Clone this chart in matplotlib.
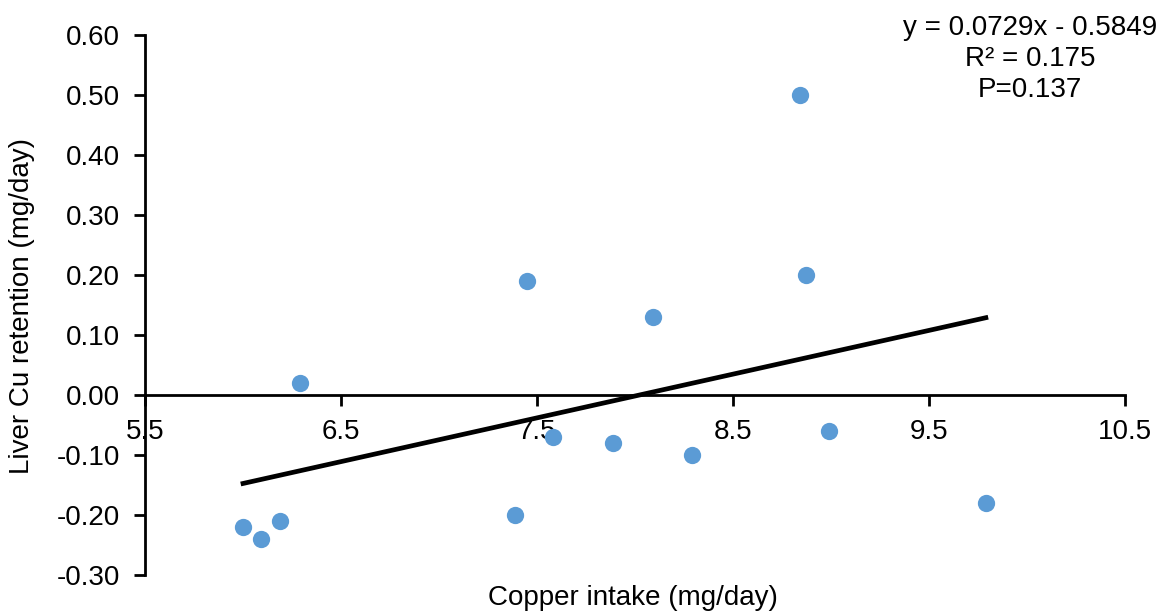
import matplotlib
matplotlib.use("Agg")
import matplotlib.pyplot as plt
import numpy as np

plt.rcParams['font.family'] = ['Liberation Sans', 'DejaVu Sans']

copper_intake = [6.0, 6.09, 6.19, 6.29, 7.45, 7.39, 7.58, 7.89, 8.09, 8.29, 8.84, 8.87, 8.99, 9.79]
liver_retention = [-0.22, -0.24, -0.21, 0.02, 0.19, -0.20, -0.07, -0.08, 0.13, -0.10, 0.50, 0.20, -0.06, -0.18]
slope, intercept = 0.0729, -0.5849
x_ticks = [5.5, 6.5, 7.5, 8.5, 9.5, 10.5]
y_ticks = [-0.30, -0.20, -0.10, 0.00, 0.10, 0.20, 0.30, 0.40, 0.50, 0.60]
annotation_lines = ['y = 0.0729x - 0.5849', 'R² = 0.175', 'P=0.137']

fig = plt.figure(figsize=(11.64, 6.12), dpi=100)
ax = fig.add_axes([0.1246, 0.0605, 0.8419, 0.8823])

ax.scatter(copper_intake, liver_retention, s=155, color='#5B9BD5', zorder=3, linewidths=0)
xl = np.array([min(copper_intake), max(copper_intake)])
ax.plot(xl, slope * xl + intercept, color='black', lw=3.4, zorder=2)

ax.set_xlim(5.5, 10.5)
ax.set_ylim(-0.30, 0.60)
ax.set_xticks(x_ticks)
ax.set_xticklabels([f"{v:.1f}" for v in x_ticks])
ax.set_yticks(y_ticks)
ax.set_yticklabels([f"{v:.2f}" for v in y_ticks])

for s in ['top', 'right']:
    ax.spines[s].set_visible(False)
ax.spines['bottom'].set_position(('data', 0))
ax.spines['bottom'].set_linewidth(2)
ax.spines['left'].set_linewidth(2)
ax.tick_params(axis='both', direction='out', length=8, width=2, labelsize=20, colors='black')
ax.tick_params(axis='x', pad=9)
ax.tick_params(axis='y', pad=10)

fig.text(0.5438, 1 - 598 / 612, 'Copper intake (mg/day)', ha='center', va='center', fontsize=20)
fig.text(0.019, 0.50, 'Liver Cu retention (mg/day)', ha='center', va='center', rotation=90, fontsize=20)

ann_y_px = [28, 59, 90]
for line, ypx in zip(annotation_lines, ann_y_px):
    fig.text(1030 / 1164, 1 - ypx / 612, line, ha='center', va='center', fontsize=20)

fig.savefig('out.png', dpi=100)
